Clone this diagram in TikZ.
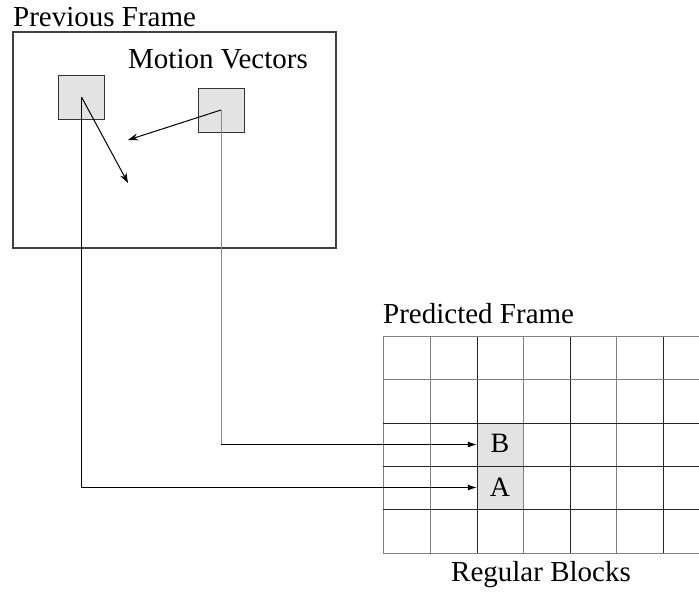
\documentclass[tikz,border=0pt]{standalone}
\usepackage{fontspec}
\setmainfont{Liberation Serif}
\usetikzlibrary{arrows.meta}

\begin{document}
\begin{tikzpicture}[x=1pt,y=-1pt,
  title/.style={font=\fontsize{29}{32}\selectfont, inner sep=0pt},
  letter/.style={font=\fontsize{28}{30}\selectfont, inner sep=0pt, anchor=base},
  framebox/.style={draw=black!75, line width=1.3pt, minimum width=323pt, minimum height=216pt, inner sep=0pt},
  block/.style={draw=black!80, fill=black!11, line width=1pt, minimum width=46pt, minimum height=44pt, inner sep=0pt},
  cell/.style={fill=black!11, minimum width=46pt, minimum height=43pt, inner sep=0pt},
  darkline/.style={draw=black!85, line width=1pt},
  lightline/.style={draw=black!50, line width=1pt},
  vec/.style={draw=black, line width=1pt, -{Stealth[length=10pt,width=7pt]}},
  link/.style={draw=black, line width=1pt},
  linkgray/.style={draw=black!45, line width=1pt},
  tip/.style={-{Latex[length=9pt,width=6pt]}}
]
\useasboundingbox (0,0) rectangle (699,592);

% previous frame with its two blocks
\node[framebox] (prev) at (174.5,140) {};
\node[title, anchor=base west] (prevlbl) at (13,26) {Previous Frame};
\node[title, anchor=base west] (mvlbl) at (128,68) {Motion Vectors};
\node[block] (lb) at (81.5,97) {};
\node[block] (rb) at (221,110) {};

% motion vectors
\coordinate (mva) at (128,183);
\coordinate (mvb) at (128,140);
\draw[vec] (lb.center) -- (mva);
\draw[vec] (rb.center) -- (mvb);

% predicted frame: shaded target cells, then the grid
\node[cell] (B) at (500,444.5) {};
\node[cell] (A) at (500,487.5) {};
\foreach \x in {383,430,523,616} \draw[lightline] (\x,336) -- (\x,553);
\foreach \x in {477,570,663} \draw[darkline] (\x,336) -- (\x,553);
\foreach \y in {336,379,553} \draw[lightline] (383,\y) -- (699,\y);
\foreach \y in {423,466,509} \draw[darkline] (383,\y) -- (699,\y);
\node[letter] (Blbl) at (B.center |- 0,452) {B};
\node[letter] (Albl) at (A.center |- 0,496) {A};
\node[title, anchor=base west] (predlbl) at (383,323) {Predicted Frame};
\node[title, anchor=base] (reglbl) at (541,581) {Regular Blocks};

% block connectors
\draw[link, tip] (lb.center) |- (A.west);
\coordinate (bturn) at (rb.center |- B.west);
\draw[linkgray] (rb.center) -- (bturn);
\draw[link, tip] (bturn) -- (B.west);
\end{tikzpicture}
\end{document}
